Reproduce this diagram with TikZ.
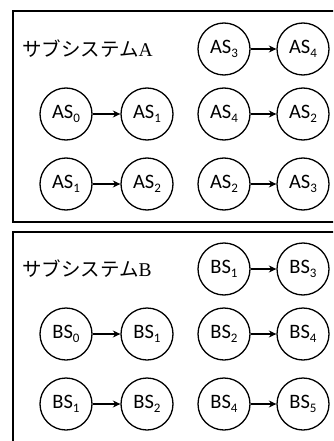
\documentclass[tikz,border=0pt]{standalone}
\usepackage{fontspec}
\setmainfont{Liberation Serif}
\newfontfamily\jpfont{Noto Sans CJK JP}
\newfontfamily\labelfont{Carlito}
\usetikzlibrary{arrows.meta}

% state label with a lowered index, e.g. \stlabel{AS}{3}
\newcommand{\stlabel}[2]{#1\raisebox{-4pt}{\fontsize{13}{13}\selectfont #2}}

\begin{document}
\begin{tikzpicture}[x=1pt,y=-1pt,
  frame/.style={draw, line width=1.8pt},
  statenode/.style={circle, draw, line width=1.3pt, minimum size=52pt, inner sep=0pt,
    font=\labelfont\fontsize{20.5}{20.5}\selectfont},
  trans/.style={line width=1.3pt, -{Stealth[length=7.5pt,width=7pt]}},
  title/.style={anchor=west, inner sep=0pt, font=\fontsize{19.5}{20}\selectfont}]
\useasboundingbox (0,0) rectangle (333,441);
\clip (0,0) rectangle (333,441);

% the two subsystem frames (right and lower edges run past the page)
\draw[frame] (13,11) rectangle (360,222);
\draw[frame] (13,232) rectangle (360,470);

% subsystem A
\node[title] (tA) at (22,49) {\jpfont サブシステム\rmfamily A};
\node[statenode] (a1) at (224,49)  {\stlabel{AS}{3}};
\node[statenode] (a2) at (303,49)  {\stlabel{AS}{4}};
\node[statenode] (a3) at (66,114)  {\stlabel{AS}{0}};
\node[statenode] (a4) at (147,114) {\stlabel{AS}{1}};
\node[statenode] (a5) at (224,114) {\stlabel{AS}{4}};
\node[statenode] (a6) at (303,114) {\stlabel{AS}{2}};
\node[statenode] (a7) at (66,184)  {\stlabel{AS}{1}};
\node[statenode] (a8) at (147,184) {\stlabel{AS}{2}};
\node[statenode] (a9) at (224,184) {\stlabel{AS}{2}};
\node[statenode] (a10) at (303,184) {\stlabel{AS}{3}};
\draw[trans] (a1) -- (a2);
\draw[trans] (a3) -- (a4);
\draw[trans] (a5) -- (a6);
\draw[trans] (a7) -- (a8);
\draw[trans] (a9) -- (a10);

% subsystem B
\node[title] (tB) at (22,269) {\jpfont サブシステム\rmfamily B};
\node[statenode] (b1) at (224,269)  {\stlabel{BS}{1}};
\node[statenode] (b2) at (303,269)  {\stlabel{BS}{3}};
\node[statenode] (b3) at (66,334)   {\stlabel{BS}{0}};
\node[statenode] (b4) at (147,334)  {\stlabel{BS}{1}};
\node[statenode] (b5) at (224,334)  {\stlabel{BS}{2}};
\node[statenode] (b6) at (303,334)  {\stlabel{BS}{4}};
\node[statenode] (b7) at (66,404)   {\stlabel{BS}{1}};
\node[statenode] (b8) at (147,404)  {\stlabel{BS}{2}};
\node[statenode] (b9) at (224,404)  {\stlabel{BS}{4}};
\node[statenode] (b10) at (303,404) {\stlabel{BS}{5}};
\draw[trans] (b1) -- (b2);
\draw[trans] (b3) -- (b4);
\draw[trans] (b5) -- (b6);
\draw[trans] (b7) -- (b8);
\draw[trans] (b9) -- (b10);
\end{tikzpicture}
\end{document}
